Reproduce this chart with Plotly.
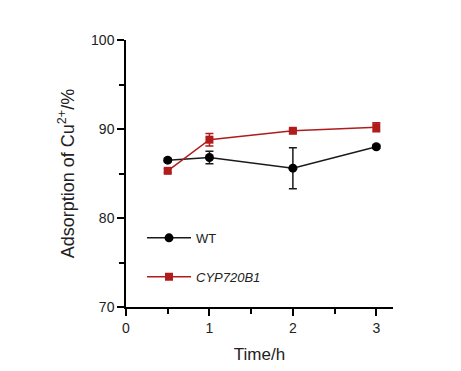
import plotly.graph_objects as go

time_h = [0.5, 1, 2, 3]
wt_mean = [86.5, 86.8, 85.6, 88.0]
wt_err = [0.2, 0.7, 2.3, 0.2]
cyp_mean = [85.3, 88.8, 89.8, 90.2]
cyp_err = [0.2, 0.7, 0.2, 0.5]

red = "#B01C1C"
font_fam = "Liberation Sans, Arial"
fig = go.Figure()
fig.add_trace(go.Scatter(
    x=time_h, y=wt_mean, name="WT", mode="lines+markers", legendgroup="a",
    line=dict(color="#1a1a1a", width=1.5),
    marker=dict(symbol="circle", size=9, color="black"),
    error_y=dict(type="data", array=wt_err, color="#1a1a1a", thickness=1.5, width=4),
))
fig.add_trace(go.Scatter(
    x=time_h, y=cyp_mean, name="<i>CYP720B1</i>", mode="lines+markers", legendgroup="b",
    line=dict(color=red, width=1.5),
    marker=dict(symbol="square", size=8, color=red),
    error_y=dict(type="data", array=cyp_err, color=red, thickness=1.5, width=4),
))

axis_common = dict(
    showline=True, linecolor="black", linewidth=1.5, showgrid=False, zeroline=False,
    ticks="outside", ticklen=7, tickwidth=1.5, tickcolor="black", automargin=False,
    tickfont=dict(family=font_fam, size=14, color="#222"),
)
fig.update_xaxes(range=[0, 3.2], tick0=0, dtick=1,
                 minor=dict(ticks="outside", ticklen=5, tickwidth=1.5, tickcolor="black", dtick=0.5, tick0=0),
                 title=dict(text="Time/h", font=dict(family=font_fam, size=17, color="#222"), standoff=14),
                 **axis_common)
fig.update_yaxes(range=[70, 100], tick0=70, dtick=10,
                 minor=dict(ticks="outside", ticklen=5, tickwidth=1.5, tickcolor="black", dtick=5, tick0=70),
                 title=dict(text="Adsorption of Cu<sup>2+</sup>/%", font=dict(family=font_fam, size=18, color="#222"), standoff=12),
                 **axis_common)
fig.update_layout(
    width=453, height=363, margin=dict(l=118, r=68, t=32, b=64),
    plot_bgcolor="white", paper_bgcolor="white",
    legend=dict(x=0.06, y=0.315, xanchor="left", yanchor="top", bgcolor="rgba(0,0,0,0)",
                font=dict(family=font_fam, size=13, color="#222"),
                tracegroupgap=19, itemwidth=44),
)
fig.write_html("out.html")
